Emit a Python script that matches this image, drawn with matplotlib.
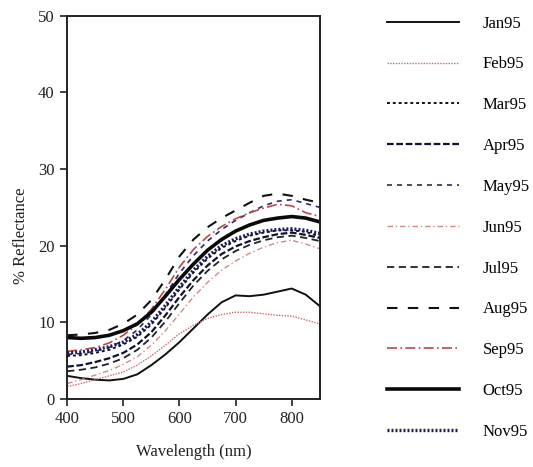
import matplotlib
matplotlib.use("Agg")
import matplotlib.pyplot as plt

plt.rcParams['font.family'] = ['Liberation Serif', 'DejaVu Serif']

wavelength = [400, 425, 450, 475, 500, 525, 550, 575, 600, 625, 650, 675, 700, 725, 750, 775, 800, 825, 850]

jan95 = [3.0, 2.7, 2.5, 2.4, 2.6, 3.2, 4.4, 5.8, 7.4, 9.2, 11.0, 12.6, 13.5, 13.4, 13.6, 14.0, 14.4, 13.6, 12.1]
feb95 = [1.6, 2.0, 2.5, 3.0, 3.5, 4.4, 5.6, 7.0, 8.5, 9.6, 10.5, 11.0, 11.3, 11.3, 11.1, 10.9, 10.8, 10.3, 9.8]
mar95 = [5.6, 5.7, 6.0, 6.4, 7.1, 8.1, 9.7, 11.9, 14.3, 16.5, 18.3, 19.7, 20.6, 21.3, 21.7, 22.0, 22.0, 21.8, 21.2]
apr95 = [4.2, 4.4, 4.8, 5.3, 6.0, 7.1, 8.7, 10.9, 13.3, 15.5, 17.4, 18.9, 19.9, 20.6, 21.1, 21.5, 21.7, 21.4, 21.0]
may95 = [5.8, 5.9, 6.2, 6.7, 7.6, 9.0, 11.0, 13.6, 16.4, 18.7, 20.6, 22.1, 23.3, 24.3, 25.2, 25.8, 26.0, 25.5, 25.0]
jun95 = [2.0, 2.5, 3.1, 3.7, 4.5, 5.5, 7.0, 8.9, 11.1, 13.3, 15.2, 16.8, 18.0, 19.0, 19.8, 20.4, 20.7, 20.2, 19.6]
jul95 = [3.6, 3.8, 4.1, 4.6, 5.3, 6.4, 8.0, 10.1, 12.5, 14.8, 16.7, 18.2, 19.3, 20.1, 20.7, 21.1, 21.3, 21.0, 20.6]
aug95 = [8.3, 8.4, 8.6, 9.0, 9.8, 11.0, 12.9, 15.6, 18.6, 20.8, 22.4, 23.6, 24.6, 25.6, 26.5, 26.8, 26.5, 26.0, 25.6]
sep95 = [6.2, 6.4, 6.7, 7.3, 8.3, 9.7, 11.7, 14.3, 17.2, 19.5, 21.2, 22.5, 23.5, 24.3, 24.9, 25.4, 25.2, 24.3, 23.8]
oct95 = [8.0, 7.9, 8.0, 8.3, 8.9, 9.8, 11.3, 13.4, 15.6, 17.6, 19.4, 20.8, 21.9, 22.7, 23.3, 23.6, 23.8, 23.6, 23.1]
nov95 = [6.0, 6.1, 6.4, 6.8, 7.4, 8.4, 10.0, 12.2, 14.6, 16.8, 18.6, 20.0, 20.9, 21.5, 21.9, 22.1, 22.2, 22.0, 21.6]

labels = ["Jan95", "Feb95", "Mar95", "Apr95", "May95", "Jun95",
          "Jul95", "Aug95", "Sep95", "Oct95", "Nov95"]
series = [jan95, feb95, mar95, apr95, may95, jun95, jul95, aug95, sep95, oct95, nov95]

styles = [
    dict(color="#111111", lw=1.4, ls="-"),
    dict(color="#c86a6a", lw=1.0, ls=(0, (1, 1))),
    dict(color="#111111", lw=1.4, ls=(0, (1.5, 1.5))),
    dict(color="#111133", lw=1.6, ls=(0, (3, 1.2))),
    dict(color="#2a2a6e", lw=1.2, ls=(0, (3, 3))),
    dict(color="#d08a8a", lw=1.0, ls=(0, (4, 2, 1, 2))),
    dict(color="#222222", lw=1.3, ls=(0, (4, 2.5))),
    dict(color="#111111", lw=1.5, ls=(0, (5, 5))),
    dict(color="#b84848", lw=1.2, ls=(0, (6, 2, 1, 2))),
    dict(color="#0a0a0a", lw=2.6, ls="-"),
    dict(color="#1a1a5e", lw=2.4, ls=(0, (0.6, 0.6))),
]

fig = plt.figure(figsize=(5.33, 4.67), dpi=100)
ax = fig.add_axes([0.126, 0.146, 0.474, 0.820])

handles = []
for y, lab, st in zip(series, labels, styles):
    h, = ax.plot(wavelength, y, label=lab, **st)
    handles.append(h)

ax.set_xlim(400, 850)
ax.set_ylim(0, 50)
ax.set_xticks([400, 500, 600, 700, 800])
ax.set_yticks([0, 10, 20, 30, 40, 50])
ax.tick_params(direction="out", length=5, width=1.2, labelsize=12, colors="#222222", pad=4)
for s in ax.spines.values():
    s.set_linewidth(1.4)
    s.set_color("#222222")

ax.set_xlabel("Wavelength (nm)", fontsize=12, labelpad=12, color="#222222")
ax.set_ylabel("% Reflectance", fontsize=12, color="#222222")
ax.yaxis.set_label_coords(-0.150, 0.426)

fig.legend(handles=handles, labels=labels, loc="upper left",
           bbox_to_anchor=(0.7145, 0.981), frameon=False, fontsize=12,
           handlelength=4.3, handletextpad=1.4, labelspacing=1.49,
           borderaxespad=0)

fig.savefig("out.png", dpi=100)
